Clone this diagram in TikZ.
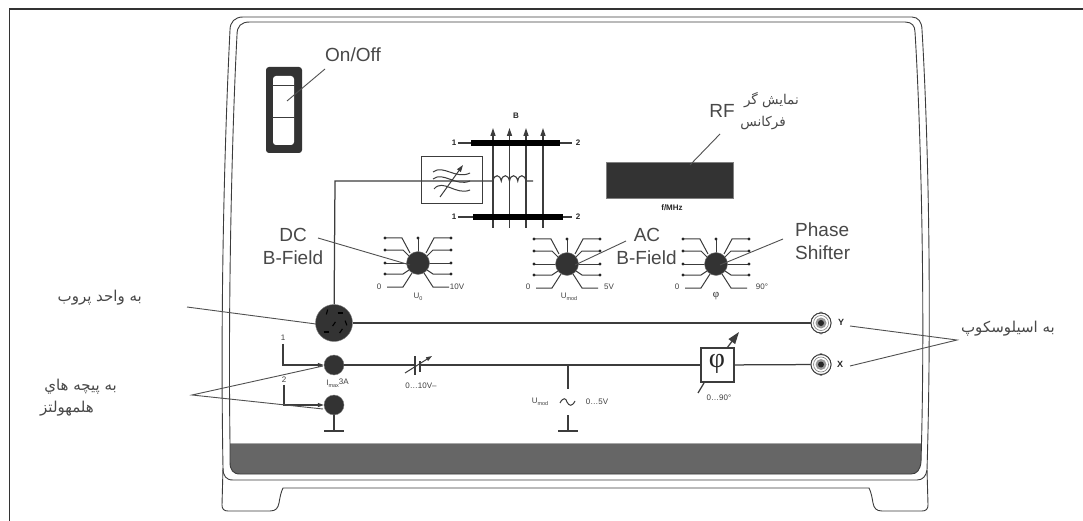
\documentclass[tikz,border=0pt]{standalone}
\usepackage{fontspec}
\setmainfont{Liberation Sans}
\newfontfamily\arabicfont[Script=Arabic]{DejaVu Sans}
\newfontfamily\phifont{Liberation Serif}
\TeXXeTstate=1
\usetikzlibrary{arrows.meta}
\definecolor{dk}{HTML}{333333}
\definecolor{band}{HTML}{666666}
\definecolor{txt}{HTML}{484848}
\definecolor{wire}{HTML}{3c3c3c}
\definecolor{lead}{HTML}{505050}
\newcommand{\subtx}[1]{\raisebox{-1.5pt}{\fontsize{5.5}{6}\selectfont #1}}
\tikzset{
  case/.style={draw=wire,line width=.9pt},
  wirel/.style={draw=wire,line width=1.25pt},
  arml/.style={draw=wire,line width=1pt},
  leader/.style={draw=lead,line width=.9pt},
  big/.style={font=\fontsize{19}{22}\selectfont,text=txt,inner sep=0pt},
  fa/.style={font=\fontsize{15}{18}\selectfont\arabicfont,text=txt,inner sep=0pt},
  fasmall/.style={font=\fontsize{13.5}{16}\selectfont\arabicfont,text=txt,inner sep=0pt},
  small/.style={font=\fontsize{8}{9}\selectfont,text=black!75,inner sep=0pt},
  smallb/.style={font=\bfseries\fontsize{8}{9}\selectfont,text=black!85,inner sep=0pt},
  disc/.style={circle,fill=dk,draw=gray,line width=.4pt,inner sep=0pt},
  knobdisc/.style={disc,minimum size=23pt},
  termdisc/.style={disc,minimum size=20pt},
  bnc/.style={circle,draw=wire,fill=white,line width=.9pt,minimum size=20pt,inner sep=0pt},
  pin/.style={fill=black!85,draw=none},
  knobarms/.pic={
    \foreach \s in {-1,1}{
      \draw[arml] (\s*33,-25) -- (\s*16,-25) -- (\s*8,-10);
      \draw[arml] (\s*33,-13) -- (\s*15,-13) -- (\s*9,-7);
      \draw[arml] (\s*33,0) -- (\s*10,0);
      \draw[arml] (\s*33,11) -- (\s*15,11) -- (\s*9,7);
      \draw[arml] (\s*31,24) -- (\s*15,24) -- (\s*6,10);
      \foreach \yy in {-25,-13,0,11}{\fill[pin] (\s*33,\yy) circle[radius=1.7];}
    }
    \draw[arml] (0,-25) -- (0,-10);
    \fill[pin] (0,-25) circle[radius=1.7];
  }
}
\begin{document}
\begin{tikzpicture}[x=1pt,y=-1pt]
\useasboundingbox (0,0) rectangle (1083,521);
\fill[white] (0,0) rectangle (1083,521);
% sheet frame
\draw[line width=1.1pt,draw=black!80] (9.5,521) -- (9.5,9) -- (1083,9);
% band
\fill[band] (230,443) -- (921.5,443) -- (921,462) .. controls (920,470) and (917,474) .. (911,474) -- (240,474) .. controls (233,474) and (230,470) .. (230,462) -- cycle;
\draw[draw=gray!70,line width=.8pt] (230,443) -- (921.5,443);
% cabinet
\draw[case] (250,22) -- (905,22) .. controls (912,22) and (915,26) .. (915,32) .. controls (921,130) and (925,300) .. (921.5,443) -- (921,462) .. controls (920,470) and (917,474) .. (911,474) -- (240,474) .. controls (233,474) and (230,470) .. (230,462) -- (230,443) .. controls (228,300) and (232,130) .. (237,35) .. controls (237,26) and (241,22) .. (250,22) -- cycle;
\draw[case] (243,17) -- (912,17) .. controls (918,17) and (922,22) .. (922,30) .. controls (928,130) and (932,300) .. (927,470) .. controls (926,476) and (923,480) .. (917,480) -- (233,480) .. controls (226,480) and (223,476) .. (223,468) .. controls (220,300) and (225,130) .. (230,30) .. controls (230,22) and (235,17) .. (243,17) -- cycle;
% feet
\draw[case] (223,468) -- (222,505) .. controls (222,509) and (224,511) .. (228,511) -- (270,511) .. controls (276,511) and (278,508) .. (279,503) .. controls (280,497) and (281,492) .. (283,488) -- (869,488) .. controls (871,492) and (872,497) .. (873,503) .. controls (874,508) and (876,511) .. (882,511) -- (922,511) .. controls (926,511) and (928,509) .. (928,505) -- (927,470);
% power switch
\fill[dk,rounded corners=3pt] (266,67) rectangle (302,153);
\fill[white,rounded corners=3pt] (273,76) rectangle (294,145);
\draw[arml] (272,86) -- (295,86) (272,118) -- (295,118);
\node[big,anchor=west] (onoff) at (325,55) {On/Off};
\coordinate (onoffA) at (325,69);
\coordinate (onoffB) at (287,101);
\draw[leader] (onoffA) -- (onoffB);
% field plates
\coordinate (p1) at (471,143); \coordinate (p2) at (560,143);
\coordinate (q1) at (473,217); \coordinate (q2) at (563,217);
\node[smallb] (b) at (516,116) {B};
\node[smallb] (t1) at (454,143) {1};
\node[smallb] (t2) at (578,143) {2};
\node[smallb] (b1) at (454,217) {1};
\node[smallb] (b2) at (578,217) {2};
\foreach \vx in {493,509.5,526,543}{
  \draw[wirel,-{Triangle[length=8pt,width=5pt]}] (\vx,228) -- (\vx,128);
}
\draw[line width=6pt,draw=black] (p1) -- (p2);
\draw[line width=6pt,draw=black] (q1) -- (q2);
\draw[wirel] (t1.east) ++(2,0) -- (p1) (p2) -- ++(12,0);
\draw[wirel] (b1.east) ++(2,0) -- (q1) (q2) -- ++(9,0);
% modulator box
\node[draw=wire,line width=1pt,minimum width=61pt,minimum height=47pt,inner sep=0pt] (modbox) at (451.5,180.5) {};
\node[disc,minimum size=37pt] (probe) at (334,323) {};
\draw[wirel] (probe) -- (335,181) -- (493,181);
\draw[arml] (433,172) .. controls (443,164) and (456,180) .. (470,173);
\draw[arml] (433,179) .. controls (443,171) and (456,187) .. (470,181);
\draw[arml] (434,189) .. controls (443,178) and (456,196) .. (470,190);
\draw[arml,-{Triangle[length=7pt,width=4.5pt]}] (440,197) -- (463,165);
% coil
\draw[wirel,line width=1.1pt] (493,181) \foreach \c in {0,1,2,3}{ .. controls ({493+8.25*\c+1},174) and ({493+8.25*\c+7},174) .. ({493+8.25*(\c+1)},181) } -- (533,181);
% RF display
\node[fill=dk,draw=gray,line width=.4pt,minimum width=127pt,minimum height=36pt,inner sep=0pt] (rf) at (669.5,180) {};
\node[smallb] (fmhz) at (672,208) {f/MHz};
\node[big,anchor=east] (rflab) at (735,111) {RF};
\node[fasmall,anchor=east] (rf1) at (799,100) {\beginR نمايش گر\endR};
\node[fasmall,anchor=east] (rf2) at (786,123) {\beginR فركانس\endR};
\coordinate (rfA) at (720,134);
\coordinate (rfB) at (690,165);
\draw[leader] (rfA) -- (rfB);
% knobs
\pic at (418,263) {knobarms};
\pic at (567,264) {knobarms};
\pic at (716,264) {knobarms};
\node[knobdisc] (k1) at (418,263) {};
\node[knobdisc] (k2) at (567,264) {};
\node[knobdisc] (k3) at (716,264) {};
\node[small] (k1a) at (379,287) {0};
\node[small] (k1b) at (457,287) {10V};
\node[small] (k1c) at (418,297) {U\subtx{0}};
\node[small] (k2a) at (528,287) {0};
\node[small] (k2b) at (609,287) {5V};
\node[small] (k2c) at (569,297) {U\subtx{mod}};
\node[small] (k3a) at (677,287) {0};
\node[small] (k3b) at (762,287) {90°};
\node[font=\phifont\fontsize{11}{12}\selectfont,text=black!85,inner sep=0pt] (k3c) at (716,296) {φ};
\node[big] (dc1) at (293,235) {DC};
\node[big] (dc2) at (293,258) {B-Field};
\node[big] (ac1) at (647,235) {AC};
\node[big] (ac2) at (646.5,258) {B-Field};
\node[big,anchor=west] (ph1) at (795,230) {Phase};
\node[big,anchor=west] (ph2) at (795,253) {Shifter};
\coordinate (dcA) at (318,238); \coordinate (dcB) at (410,265);
\coordinate (acA) at (626,241); \coordinate (acB) at (575,265);
\coordinate (phA) at (783,239); \coordinate (phB) at (720,265);
\draw[leader] (dcA) -- (dcB) (acA) -- (acB) (phA) -- (phB);
% probe socket marks
\foreach \mx/\my/\ma in {-7/-11/75,6/-10/0,0/1/55,12/0/110,7/8/55,-8/9/0}{
  \draw[line width=1.1pt,draw=black,rotate around={\ma:(334+\mx,323+\my)}] (334+\mx-2.5,323+\my) -- (334+\mx+2.5,323+\my);
}
% main signal lines
\node[bnc] (y) at (821,323) {};
\node[bnc] (x) at (821,364.5) {};
\draw[wirel] (probe) -- (y);
\node[termdisc] (t1d) at (334,365) {};
\node[termdisc] (t2d) at (334,405) {};
\coordinate (pa) at (698,393); \coordinate (pb) at (704,383);
\coordinate (pc) at (727,348); \coordinate (pd) at (739,332);
\node[draw=wire,fill=white,line width=1.2pt,minimum width=33pt,minimum height=34pt,inner sep=0pt] (phibox) at (717.5,365) {};
\node[font=\phifont\fontsize{28}{30}\selectfont,text=black!85,inner sep=0pt] (phisym) at (717,364) {φ};
\draw[wirel] (t1d) -- (phibox);
\draw[wirel] (phibox) -- (x);
\draw[wirel] (pa) -- (pb);
\draw[wirel,-{Triangle[length=12pt,width=8pt]}] (pc) -- (pd);
% BNC sockets
\foreach \n in {y,x}{
  \fill[gray] ([yshift=-1pt]\n.north) circle[radius=2] ([yshift=1pt]\n.south) circle[radius=2];
  \draw[bnc] (\n) circle[radius=10];
  \fill[white,draw=gray,line width=.6pt] (\n) circle[radius=7.5];
  \fill[gray!80] (\n) circle[radius=5.5];
  \fill[black!85] (\n) circle[radius=3];
}
\node[smallb,font=\bfseries\fontsize{9}{10}\selectfont] (ylab) at (841,322) {Y};
\node[smallb,font=\bfseries\fontsize{9}{10}\selectfont] (xlab) at (840,364) {X};
% inputs
\node[small] (in1) at (283,338) {1};
\node[small] (in2) at (284,380) {2};
\draw[wirel,-{Triangle[length=6pt,width=4pt]}] (in1.south) ++(0,3) |- (t1d);
\draw[wirel,-{Triangle[length=6pt,width=4pt]}] (in2.south) ++(0,2) |- (t2d);
\node[small] (imax) at (337.5,383) {I\subtx{max}\raisebox{1.5pt}{3A}};
\coordinate (g1) at (334,431);
\draw[wirel] (t2d) -- (g1);
\draw[wirel] (324,431) -- (344,431);
% battery
\fill[white] (416,362) rectangle (419,368);
\draw[wirel] (415,356) -- (415,375);
\draw[wirel] (420,361) -- (420,372);
\draw[arml,-{Triangle[length=6pt,width=4pt]}] (405,373) -- (432,356);
\node[small] (batt) at (421,386) {0…10V\textendash};
% modulation source
\coordinate (s1) at (568,365); \coordinate (s2) at (568,389);
\coordinate (g2) at (568,431); \coordinate (s3) at (568,415);
\draw[wirel] (s1) -- (s2) (s3) -- (g2) (558,431) -- (578,431);
\node[small] (um) at (540,402) {U\subtx{mod}};
\node[small] (um2) at (597,402) {0…5V};
\draw[arml] (560,403) .. controls (563,397) and (566,398) .. (567,402) .. controls (569,406) and (572,407) .. (575,401);
\node[small] (ph90) at (719,398) {0…90°};
% outside labels
\node[fa,anchor=east] (lp) at (142,298) {\beginR به واحد پروب\endR};
\node[fa,anchor=east] (lh1) at (117,387) {\beginR به پيچه هاي\endR};
\node[fa,anchor=east] (lh2) at (94,409) {\beginR هلمهولتز\endR};
\node[fa,anchor=east] (lo) at (1055,329) {\beginR به اسيلوسكوپ\endR};
\coordinate (lpA) at (187,307); \coordinate (lpB) at (316,324);
\coordinate (lhA) at (192,395); \coordinate (lhB) at (323,366); \coordinate (lhC) at (323,409);
\coordinate (loA) at (957,340); \coordinate (loB) at (850,326); \coordinate (loC) at (850,366);
\draw[leader] (lpA) -- (lpB);
\draw[leader] (lhB) -- (lhA) -- (lhC);
\draw[leader] (loB) -- (loA) -- (loC);
\end{tikzpicture}
\end{document}
